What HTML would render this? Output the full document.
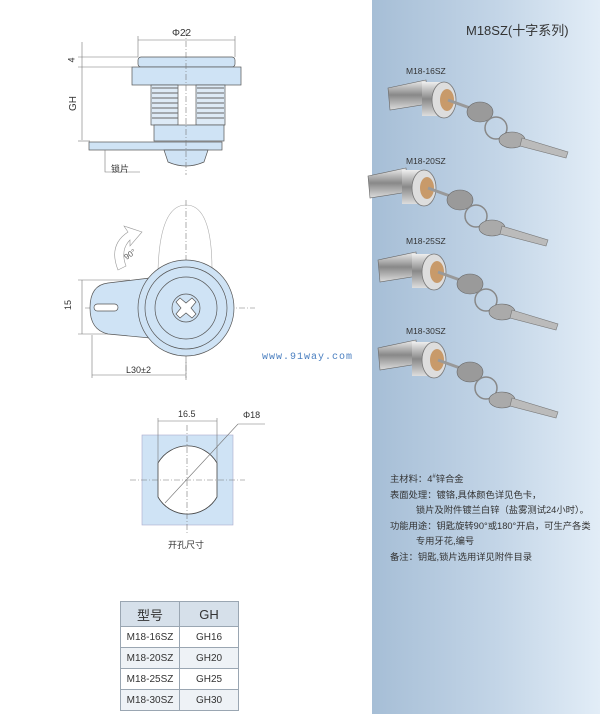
<!DOCTYPE html>
<html><head><meta charset="utf-8"><style>
html,body{margin:0;padding:0;background:#fff;}
body{width:600px;height:714px;position:relative;overflow:hidden;font-family:"Liberation Sans","Noto Sans CJK SC",sans-serif;}
.panel{position:absolute;left:372px;top:0;width:228px;height:714px;background:linear-gradient(90deg,#a6bed6 0%,#c3d5e7 55%,#e2edf7 100%);}
.t{position:absolute;white-space:nowrap;}
table{position:absolute;left:120px;top:601px;border-collapse:collapse;font-size:10px;color:#333;}
td,th{border:1px solid #9aa6b2;width:58px;text-align:center;height:20px;padding:0;}
th{background:#d6e0ea;font-size:13px;font-weight:normal;height:24px;}
tr:nth-child(odd) td{background:#eef2f6;}
</style></head><body>
<div class="panel"></div>
<svg width="600" height="714" style="position:absolute;left:0;top:0">
<defs>
<linearGradient id="m" x1="0" y1="0" x2="0" y2="1"><stop offset="0" stop-color="#eee"/><stop offset=".5" stop-color="#888"/><stop offset="1" stop-color="#ddd"/></linearGradient>
<g id="lock">
 <path d="M-52,-12 L-14,-20 L-12,4 L-50,10 Z" fill="url(#m)" stroke="#666" stroke-width=".6"/>
 <rect x="-18" y="-18" width="22" height="34" fill="url(#m)"/>
 <ellipse cx="4" cy="0" rx="12" ry="18" fill="#ddd" stroke="#777" stroke-width=".8"/>
 <ellipse cx="7" cy="0" rx="7" ry="11" fill="#c89a6a"/>
 <line x1="8" y1="0" x2="30" y2="8" stroke="#999" stroke-width="3"/>
 <ellipse cx="40" cy="12" rx="13" ry="10" fill="#9a9a9a" stroke="#666" stroke-width=".6"/>
 <circle cx="56" cy="28" r="11" fill="none" stroke="#888" stroke-width="1.5"/>
 <ellipse cx="72" cy="40" rx="13" ry="8" fill="#aaa" stroke="#666" stroke-width=".6"/>
 <path d="M82,38 L128,52 L126,58 L80,46 Z" fill="#bbb" stroke="#777" stroke-width=".6"/>
</g>
</defs>
<g stroke="#555" stroke-width=".7" fill="#cfe3f5">
 <rect x="138" y="57" width="97" height="10" rx="3"/>
 <rect x="132" y="67" width="109" height="18"/>
 <rect x="151" y="85" width="27" height="40" fill="#ddeaf6"/>
 <rect x="196" y="85" width="29" height="40" fill="#ddeaf6"/>
 <rect x="154" y="125" width="70" height="16"/>
 <rect x="89" y="142" width="133" height="8"/>
 <path d="M164,150 L208,150 L204,162 Q186,170 168,162 Z"/>
</g>
<g stroke="#666" stroke-width="1" fill="none">
 <path d="M152,88h26M152,93h26M152,98h26M152,103h26M152,108h26M152,113h26M152,118h26M197,88h27M197,93h27M197,98h27M197,103h27M197,108h27M197,113h27M197,118h27"/>
</g>
<g stroke="#777" stroke-width=".6" fill="none">
 <line x1="138" y1="40" x2="235" y2="40"/><line x1="138" y1="36" x2="138" y2="57"/><line x1="235" y1="36" x2="235" y2="57"/>
 <line x1="82" y1="42" x2="82" y2="140"/><line x1="78" y1="57" x2="138" y2="57"/><line x1="78" y1="67" x2="132" y2="67"/><line x1="78" y1="141" x2="90" y2="141"/>
 <line x1="186" y1="30" x2="186" y2="175" stroke-dasharray="6,2,1,2"/>
 <polyline points="105,150 105,172 140,172"/>
 <line x1="186" y1="200" x2="186" y2="380" stroke-dasharray="6,2,1,2"/>
 <line x1="85" y1="308" x2="255" y2="308" stroke-dasharray="6,2,1,2"/>
 <path d="M158,270 Q160,205 186,205 Q212,205 212,270" stroke="#aaa"/>
 <line x1="78" y1="280" x2="130" y2="280"/><line x1="78" y1="334" x2="130" y2="334"/><line x1="82" y1="280" x2="82" y2="334"/>
 <line x1="92" y1="335" x2="92" y2="378"/><line x1="186" y1="360" x2="186" y2="378"/><line x1="92" y1="375" x2="186" y2="375"/>
 <path d="M118,270 Q108,245 128,232 L124,226 L142,232 L130,246 L130,240 Q120,250 126,266 Z" stroke="#999" fill="#fff"/>
</g>
<g stroke="#555" stroke-width=".7" fill="#cfe3f5">
 <path d="M150,278 L108,283 Q90,285 90,308 Q90,330 108,334 L150,338 Z"/>
 <rect x="94" y="304" width="24" height="7" rx="3.5" fill="#fff"/>
 <circle cx="186" cy="308" r="48"/>
 <circle cx="186" cy="308" r="41"/>
 <circle cx="186" cy="308" r="31"/>
 <circle cx="186" cy="308" r="14"/>
 <path d="M180,298 l6,5 6,-5 4,4 -5,6 5,6 -4,4 -6,-5 -6,5 -4,-4 5,-6 -5,-6z" fill="#fff"/>
</g>
<rect x="142" y="435" width="91" height="90" fill="#cfe3f5" stroke="#aac" stroke-width=".6"/>
<path d="M158,463 A34,34 0 0 1 217,463 L217,497 A34,34 0 0 1 158,497 Z" fill="#fff" stroke="#444" stroke-width=".8"/>
<g stroke="#777" stroke-width=".6" fill="none">
 <line x1="158" y1="418" x2="158" y2="463"/><line x1="217" y1="418" x2="217" y2="463"/><line x1="158" y1="421" x2="217" y2="421"/>
 <line x1="187" y1="425" x2="187" y2="535" stroke-dasharray="6,2,1,2"/><line x1="130" y1="480" x2="245" y2="480" stroke-dasharray="6,2,1,2"/>
 <line x1="165" y1="503" x2="238" y2="424"/><line x1="238" y1="424" x2="265" y2="424"/>
</g>
<use href="#lock" x="440" y="100"/>
<use href="#lock" x="420" y="188"/>
<use href="#lock" x="430" y="272"/>
<use href="#lock" x="430" y="360"/>
</svg>
<div class="t" style="left:172px;top:28px;font-size:10px;color:#333">Φ22</div>
<div class="t" style="left:69px;top:55px;font-size:9px;color:#333;transform:rotate(-90deg)">4</div>
<div class="t" style="left:66px;top:98px;font-size:10px;color:#333;transform:rotate(-90deg)">GH</div>
<div class="t" style="left:111px;top:162px;font-size:9px;color:#333">锁片</div>
<div class="t" style="left:124px;top:250px;font-size:8px;color:#555;transform:rotate(-35deg)">90°</div>
<div class="t" style="left:63px;top:300px;font-size:9px;color:#333;transform:rotate(-90deg)">15</div>
<div class="t" style="left:126px;top:365px;font-size:9px;color:#333">L30±2</div>
<div class="t" style="left:262px;top:352px;font-size:10px;color:#4a7fc0;letter-spacing:1px;font-family:'Liberation Mono',monospace">www.91way.com</div>
<div class="t" style="left:178px;top:409px;font-size:9px;color:#333">16.5</div>
<div class="t" style="left:243px;top:410px;font-size:9px;color:#333">Φ18</div>
<div class="t" style="left:168px;top:538px;font-size:9px;color:#333">开孔尺寸</div>
<div class="t" style="left:466px;top:20px;font-size:13px;color:#333">M18SZ(十字系列)</div>
<div class="t" style="left:406px;top:66px;font-size:8.5px;color:#333">M18-16SZ</div>
<div class="t" style="left:406px;top:156px;font-size:8.5px;color:#333">M18-20SZ</div>
<div class="t" style="left:406px;top:236px;font-size:8.5px;color:#333">M18-25SZ</div>
<div class="t" style="left:406px;top:326px;font-size:8.5px;color:#333">M18-30SZ</div>
<div class="t" style="left:390px;top:470px;font-size:9.3px;color:#333;line-height:15.5px">主材料：4<sup style="font-size:6px">#</sup>锌合金<br>表面处理：镀铬,具体颜色详见色卡，<br>&nbsp;&nbsp;&nbsp;&nbsp;&nbsp;&nbsp;&nbsp;&nbsp;&nbsp;&nbsp;锁片及附件镀兰白锌（盐雾测试24小时）。<br>功能用途：钥匙旋转90°或180°开启，可生产各类<br>&nbsp;&nbsp;&nbsp;&nbsp;&nbsp;&nbsp;&nbsp;&nbsp;&nbsp;&nbsp;专用牙花,编号<br>备注：钥匙,锁片选用详见附件目录</div>
<table>
<tr><th>型号</th><th>GH</th></tr>
<tr><td>M18-16SZ</td><td>GH16</td></tr>
<tr><td>M18-20SZ</td><td>GH20</td></tr>
<tr><td>M18-25SZ</td><td>GH25</td></tr>
<tr><td>M18-30SZ</td><td>GH30</td></tr>
</table>
</body></html>
